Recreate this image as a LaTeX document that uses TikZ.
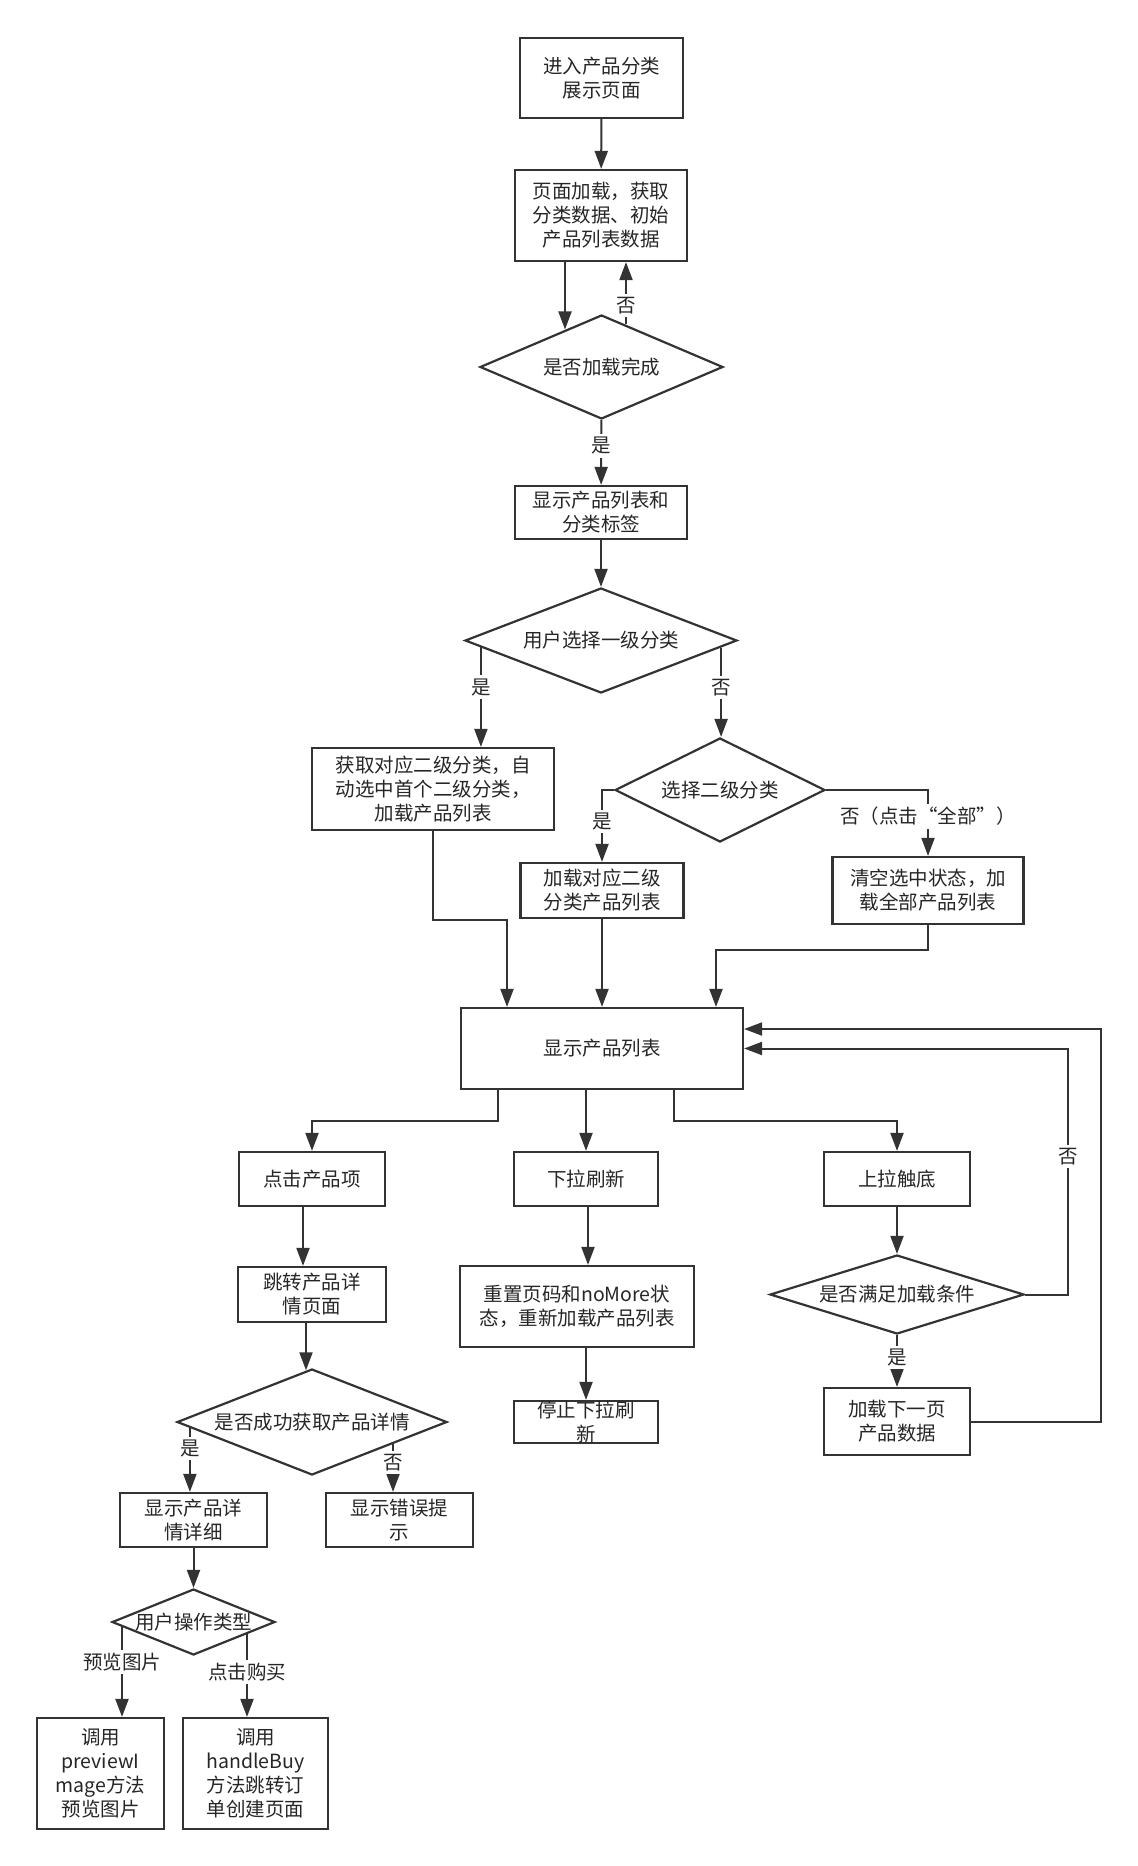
\documentclass[tikz,border=0pt]{standalone}
\usepackage{fontspec}
\setmainfont{Noto Sans CJK SC}
\usetikzlibrary{arrows.meta,shapes.geometric}
\definecolor{edge}{HTML}{333333}
\definecolor{ink}{HTML}{262626}

\tikzset{
  proc/.style={draw=edge, line width=1.1pt, align=center, inner sep=2pt},
  dec/.style={diamond, draw=edge, line width=1.1pt, inner sep=0pt},
  flow/.style={draw=edge, line width=1pt, -{Triangle[length=9pt,width=6.5pt]}},
  yesno/.style={fill=white, inner sep=1.5pt},
}

\begin{document}
\begin{tikzpicture}[x=0.5pt,y=-0.5pt,font=\fontsize{9.75pt}{12pt}\selectfont,text=ink]
    \useasboundingbox (0,0) rectangle (1138,1866);

    \node[proc, minimum width=81.5pt, minimum height=40pt] (enter) at (601.5,78) {进入产品分类\\展示页面};
    \node[proc, minimum width=86pt, minimum height=45.5pt] (load) at (601,215.5) {页面加载，获取\\分类数据、初始\\产品列表数据};
    \node[dec, minimum width=121.5pt, minimum height=52pt, label=center:是否加载完成] (loaded) at (601.5,367) {};
    \node[proc, minimum width=86pt, minimum height=26.5pt] (show) at (601,512.5) {显示产品列表和\\分类标签};
    \node[dec, minimum width=136pt, minimum height=52.5pt, label=center:用户选择一级分类] (first) at (601,640.5) {};
    \node[proc, minimum width=121pt, minimum height=41pt] (subfirst) at (433,789) {获取对应二级分类，自\\动选中首个二级分类，\\加载产品列表};
    \node[dec, minimum width=105pt, minimum height=52pt, label=center:选择二级分类] (second) at (720,790) {};
    \node[proc, minimum width=81.5pt, minimum height=27.5pt] (loadsub) at (602,890.5) {加载对应二级\\分类产品列表};
    \node[proc, minimum width=95.5pt, minimum height=33.5pt] (clearsel) at (928,890.5) {清空选中状态，加\\载全部产品列表};
    \node[proc, minimum width=141pt, minimum height=40.5pt] (list) at (602,1048.5) {显示产品列表};
    \node[proc, minimum width=73pt, minimum height=27pt] (tap) at (312,1179) {点击产品项};
    \node[proc, minimum width=72pt, minimum height=27pt] (pull) at (586,1179) {下拉刷新};
    \node[proc, minimum width=73pt, minimum height=27pt] (reach) at (897,1179) {上拉触底};
    \node[proc, minimum width=74pt, minimum height=27.5pt] (jump) at (312,1294.5) {跳转产品详\\情页面};
    \node[dec, minimum width=135pt, minimum height=53pt, label=center:是否成功获取产品详情] (detailok) at (312,1422) {};
    \node[proc, minimum width=73.5pt, minimum height=27pt] (detail) at (193.5,1520) {显示产品详\\情详细};
    \node[proc, minimum width=73.5pt, minimum height=27pt] (err) at (399.5,1520) {显示错误提\\示};
    \node[dec, minimum width=81.5pt, minimum height=33pt, label=center:用户操作类型] (optype) at (193.5,1622) {};
    \node[proc, minimum width=63.5pt, minimum height=55.5pt] (preview) at (100.5,1773.5) {调用\\previewI\\mage方法\\预览图片};
    \node[proc, minimum width=72.5pt, minimum height=55.5pt] (buy) at (255.5,1773.5) {调用\\handleBuy\\方法跳转订\\单创建页面};
    \node[proc, minimum width=117pt, minimum height=40.5pt] (reset) at (577,1306.5) {重置页码和noMore状\\态，重新加载产品列表};
    \node[proc, minimum width=72pt, minimum height=21pt, label={[align=center]center:{停止下拉刷\\新}}] (stop) at (586,1422) {};
    \node[dec, minimum width=127pt, minimum height=39.5pt, label=center:是否满足加载条件] (canload) at (897,1294.5) {};
    \node[proc, minimum width=73pt, minimum height=33.5pt] (next) at (897,1421.5) {加载下一页\\产品数据};

    \draw[flow] (enter) -- (load);
    \draw[flow] ([xshift=-18pt]load.south) -- ([xshift=-18.25pt,yshift=-7.8pt]loaded.north);
    \draw[flow] ([xshift=12.25pt,yshift=-5.25pt]loaded.north) coordinate (back) -- node[yesno, pos=0.3] {否} (back |- load.south);
    \draw[flow] (loaded) -- node[yesno, pos=0.4] {是} (show);
    \draw[flow] (show) -- (first);
    \draw[flow] ([xshift=8.5pt,yshift=-3.3pt]first.west) coordinate (fy) -- node[yesno, pos=0.4] {是} (fy |- subfirst.north);
    \draw[flow] ([xshift=-8.5pt,yshift=-3.5pt]first.east) coordinate (fn) -- node[yesno, pos=0.45] {否} (fn |- second.north);
    \draw[flow] (second.west) -| node[yesno, pos=0.72] {是} (loadsub.north);
    \draw[flow] (second.east) -| node[yesno, pos=0.7] {否（点击“全部”）} (clearsel.north);
    \draw[flow] (subfirst.south) -- ++(0,89) -| ([xshift=-47.5pt]list.north);
    \draw[flow] (loadsub) -- (list);
    \draw[flow] (clearsel.south) -- ++(0,25) -| ([xshift=57pt]list.north);

    \draw[flow] ([xshift=-52pt]list.south) -- ++(0,31) -| (tap.north);
    \draw[flow] ([xshift=-8pt]list.south) -- (pull.north);
    \draw[flow] ([xshift=36pt]list.south) -- ++(0,31) -| (reach.north);

    \draw[flow] ([xshift=-4.5pt]tap.south) -- ([xshift=-4.5pt]jump.north);
    \draw[flow] ([xshift=-3pt]jump.south) -- ([xshift=-3pt,yshift=-1.2pt]detailok.north);
    \draw[flow] ([xshift=7pt,yshift=-2.75pt]detailok.west) coordinate (dy) -- node[yesno, pos=0.32] {是} (dy |- detail.north);
    \draw[flow] ([xshift=40.5pt,yshift=-10.5pt]detailok.center) coordinate (dn) -- node[yesno, pos=0.4] {否} (dn |- err.north);
    \draw[flow] (detail) -- (optype);
    \draw[flow] ([xshift=-35.75pt,yshift=-2pt]optype.center) coordinate (op) -- node[yesno, pos=0.4] {预览图片} (op |- preview.north);
    \draw[flow] ([xshift=26.75pt,yshift=-5.65pt]optype.center) coordinate (ob) -- node[yesno, pos=0.46] {点击购买} (ob |- buy.north);

    \draw[flow] ([xshift=1pt]pull.south) coordinate (pr) -- (pr |- reset.north);
    \draw[flow] ([xshift=4.5pt]reset.south) coordinate (rs) -- (rs |- stop.north);

    \draw[flow] (reach) -- (canload);
    \draw[flow] (canload.east) -- ++(43,0) |- node[yesno, pos=0.28] {否} (list.east);
    \draw[flow] (canload) -- node[yesno, pos=0.44] {是} (next);
    \draw[flow] (next.east) -- ++(130,0) |- ([yshift=9.75pt]list.east);
\end{tikzpicture}
\end{document}
